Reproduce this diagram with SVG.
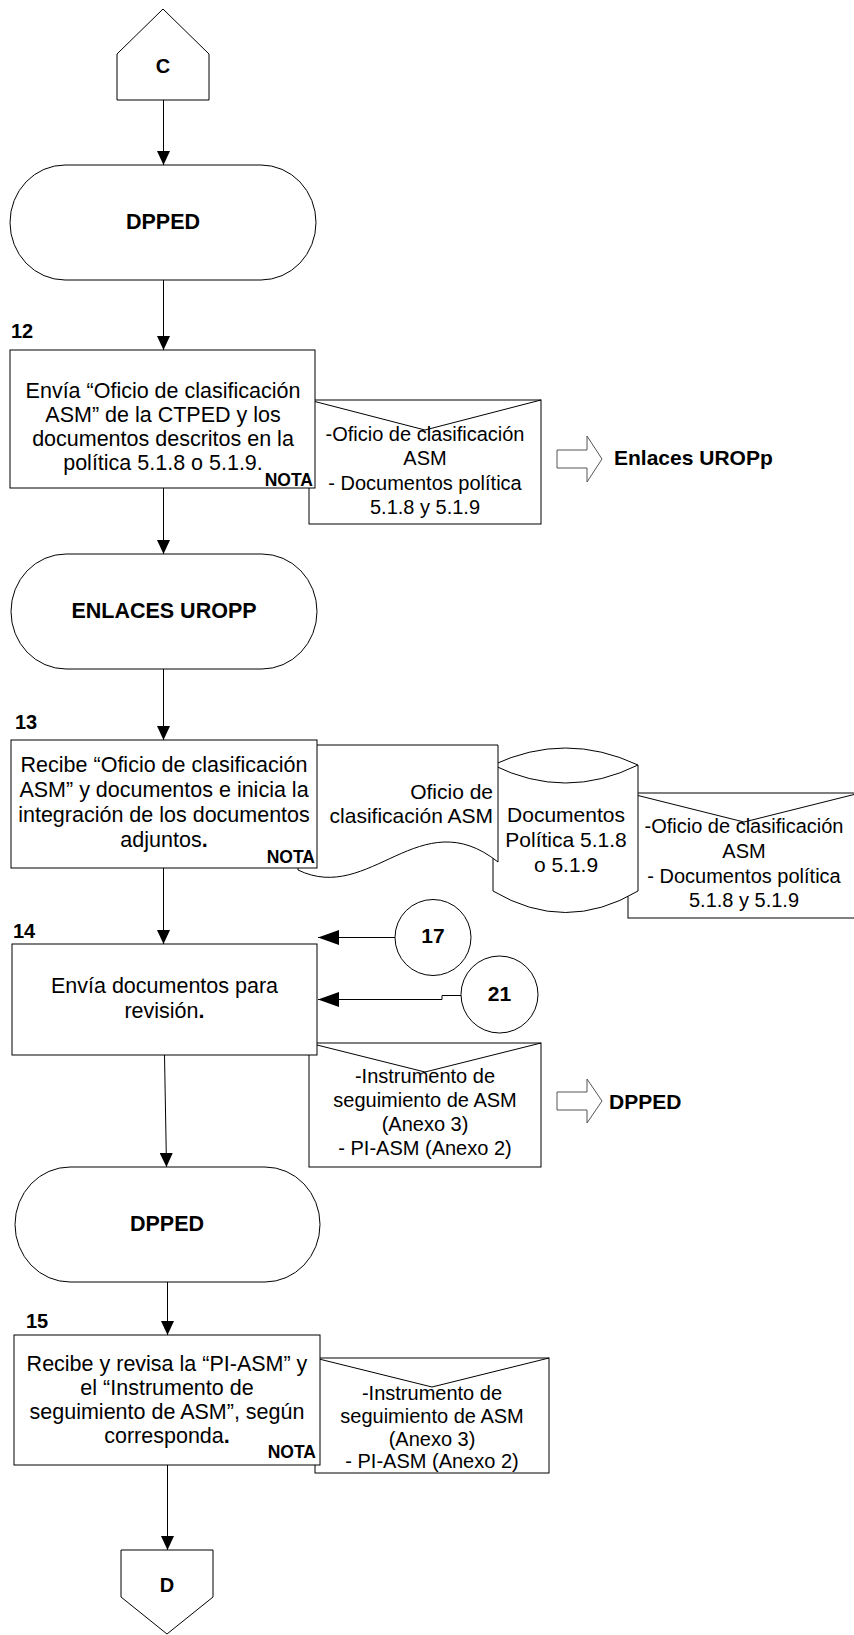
<svg xmlns="http://www.w3.org/2000/svg" width="854" height="1635" viewBox="0 0 854 1635">
  <style>
    .shape { fill: #fff; stroke: #000; stroke-width: 1; }
    .conn { fill: none; stroke: #000; stroke-width: 1; }
    .blk { fill: #fff; stroke: #555; stroke-width: 1; }
    text { font-family: "Liberation Sans", Arial, sans-serif; fill: #000; }
    .t { font-size: 21.5px; text-anchor: middle; }
    .e { font-size: 20px; text-anchor: middle; }
    .d { font-size: 21px; }
    .r { text-anchor: end; }
    .b { font-weight: bold; }
    .hd { font-size: 21.5px; font-weight: bold; text-anchor: middle; }
    .nota { font-size: 17.5px; font-weight: bold; text-anchor: end; }
    .num { font-size: 20px; font-weight: bold; }
    .lbl { font-size: 21px; font-weight: bold; }
  </style>
  <defs>
    <marker id="ah" markerUnits="userSpaceOnUse" viewBox="0 0 14 13" markerWidth="14" markerHeight="13" refX="14" refY="6.5" orient="auto">
      <path d="M0,0 L14,6.5 L0,13 Z" fill="#000"/>
    </marker>
    <marker id="ahL" markerUnits="userSpaceOnUse" viewBox="0 0 21 15" markerWidth="21" markerHeight="15" refX="21" refY="7.5" orient="auto">
      <path d="M0,0 L21,7.5 L0,15 Z" fill="#000"/>
    </marker>
  </defs>

  <!-- off-page connector C -->
  <g id="conector-c">
    <polygon class="shape" points="117,100 117,54 163,9 209,54 209,100"/>
    <text class="hd" x="163" y="73" style="font-size:20px">C</text>
  </g>

  <!-- DPPED -->
  <g id="terminal-dpped-1">
    <rect class="shape" x="10" y="165" width="306" height="115" rx="55" ry="57.5"/>
    <text class="hd" x="163" y="229">DPPED</text>
  </g>

  <!-- step 12 -->
  <g id="sobre-12">
    <rect class="shape" x="309" y="400" width="232" height="124"/>
    <polyline class="conn" points="309,400 425,430 541,400"/>
    <text class="e" x="425" y="441">-Oficio de clasificación</text>
    <text class="e" x="425" y="465">ASM</text>
    <text class="e" x="425" y="490">- Documentos política</text>
    <text class="e" x="425" y="514">5.1.8 y 5.1.9</text>
  </g>
  <g id="paso-12">
    <text class="num" x="11" y="338">12</text>
    <rect class="shape" x="10" y="350" width="305" height="138"/>
    <text class="t" x="163" y="398">Envía “Oficio de clasificación</text>
    <text class="t" x="163" y="422">ASM” de la CTPED y los</text>
    <text class="t" x="163" y="446">documentos descritos en la</text>
    <text class="t" x="163" y="470">política 5.1.8 o 5.1.9.</text>
    <text class="nota" x="313" y="486">NOTA</text>
  </g>
  <g id="salida-enlaces">
    <path class="blk" d="M557,450 H587 V436 L602,459 L587,482 V468 H557 Z"/>
    <text class="lbl" x="614" y="465">Enlaces UROPp</text>
  </g>

  <!-- ENLACES UROPP -->
  <g id="terminal-enlaces">
    <rect class="shape" x="11" y="554" width="306" height="115" rx="55" ry="57.5"/>
    <text class="hd" x="164" y="618">ENLACES UROPP</text>
  </g>

  <!-- step 13 -->
  <g id="sobre-13">
    <rect class="shape" x="628" y="793" width="232" height="125"/>
    <polyline class="conn" points="628,793 744,822 860,793"/>
    <text class="e" x="744" y="833">-Oficio de clasificación</text>
    <text class="e" x="744" y="858">ASM</text>
    <text class="e" x="744" y="883">- Documentos política</text>
    <text class="e" x="744" y="907">5.1.8 y 5.1.9</text>
  </g>
  <g id="disco-13">
    <path class="shape" d="M493,765 Q565.5,731 638,765 V891 Q565.5,934 493,891 Z"/>
    <path class="conn" d="M493,765 Q565.5,801 638,765"/>
    <text class="t d" x="566" y="822">Documentos</text>
    <text class="t d" x="566" y="847">Política 5.1.8</text>
    <text class="t d" x="566" y="872">o 5.1.9</text>
  </g>
  <g id="documento-13">
    <path class="shape" d="M298,745 H498 V862 C420,800 370,905 298,870 Z"/>
    <text class="t d r" x="493" y="799">Oficio de</text>
    <text class="t d r" x="493" y="823">clasificación ASM</text>
  </g>
  <g id="paso-13">
    <text class="num" x="15" y="729">13</text>
    <rect class="shape" x="11" y="740" width="306" height="128"/>
    <text class="t" x="164" y="772">Recibe “Oficio de clasificación</text>
    <text class="t" x="164" y="797">ASM” y documentos e inicia la</text>
    <text class="t" x="164" y="822">integración de los documentos</text>
    <text class="t" x="164" y="847">adjuntos<tspan class="b">.</tspan></text>
    <text class="nota" x="315" y="863">NOTA</text>
  </g>

  <!-- step 14 -->
  <g id="sobre-14">
    <rect class="shape" x="309" y="1043" width="232" height="124"/>
    <polyline class="conn" points="309,1043 425,1072 541,1043"/>
    <text class="e" x="425" y="1083">-Instrumento de</text>
    <text class="e" x="425" y="1107">seguimiento de ASM</text>
    <text class="e" x="425" y="1131">(Anexo 3)</text>
    <text class="e" x="425" y="1155">- PI-ASM (Anexo 2)</text>
  </g>
  <g id="paso-14">
    <text class="num" x="13" y="938">14</text>
    <rect class="shape" x="12" y="944" width="305" height="111"/>
    <text class="t" x="164.5" y="993">Envía documentos para</text>
    <text class="t" x="164.5" y="1018">revisión<tspan class="b">.</tspan></text>
  </g>
  <g id="conector-17">
    <circle class="shape" cx="433" cy="937.5" r="38"/>
    <text class="lbl" x="433" y="943" text-anchor="middle">17</text>
  </g>
  <g id="conector-21">
    <circle class="shape" cx="499.5" cy="994.5" r="38.5"/>
    <text class="lbl" x="499.5" y="1001" text-anchor="middle">21</text>
  </g>
  <g id="salida-dpped">
    <path class="blk" d="M557,1092 H587 V1079 L602,1101 L587,1123 V1110 H557 Z"/>
    <text class="lbl" x="609" y="1109">DPPED</text>
  </g>

  <!-- DPPED -->
  <g id="terminal-dpped-2">
    <rect class="shape" x="15" y="1167" width="305" height="115" rx="55" ry="57.5"/>
    <text class="hd" x="167" y="1231">DPPED</text>
  </g>

  <!-- step 15 -->
  <g id="sobre-15">
    <rect class="shape" x="315" y="1358" width="234" height="115"/>
    <polyline class="conn" points="315,1358 432,1387 549,1358"/>
    <text class="e" x="432" y="1400">-Instrumento de</text>
    <text class="e" x="432" y="1423">seguimiento de ASM</text>
    <text class="e" x="432" y="1446">(Anexo 3)</text>
    <text class="e" x="432" y="1468">- PI-ASM (Anexo 2)</text>
  </g>
  <g id="paso-15">
    <text class="num" x="26" y="1328">15</text>
    <rect class="shape" x="14" y="1335" width="306" height="130"/>
    <text class="t" x="167" y="1371">Recibe y revisa la “PI-ASM” y</text>
    <text class="t" x="167" y="1395">el “Instrumento de</text>
    <text class="t" x="167" y="1419">seguimiento de ASM”, según</text>
    <text class="t" x="167" y="1443">corresponda<tspan class="b">.</tspan></text>
    <text class="nota" x="316" y="1458">NOTA</text>
  </g>

  <!-- off-page connector D -->
  <g id="conector-d">
    <polygon class="shape" points="121,1550 213,1550 213,1597 167,1634 121,1597"/>
    <text class="hd" x="167" y="1592" style="font-size:20px">D</text>
  </g>

  <!-- flow connectors -->
  <g id="conectores" class="conn">
    <path d="M163.5,100 V165" marker-end="url(#ah)"/>
    <path d="M163.5,280 V350" marker-end="url(#ah)"/>
    <path d="M163.5,488 V554" marker-end="url(#ah)"/>
    <path d="M163.5,669 V740" marker-end="url(#ah)"/>
    <path d="M163.5,868 V944" marker-end="url(#ah)"/>
    <path d="M164.5,1055 L166.5,1167" marker-end="url(#ah)"/>
    <path d="M167.5,1282 V1335" marker-end="url(#ah)"/>
    <path d="M167.5,1465 V1550" marker-end="url(#ah)"/>
    <path d="M395,937.5 H318" marker-end="url(#ahL)"/>
    <path d="M461,995.5 H442 V999.5 H318" marker-end="url(#ahL)"/>
  </g>
</svg>
